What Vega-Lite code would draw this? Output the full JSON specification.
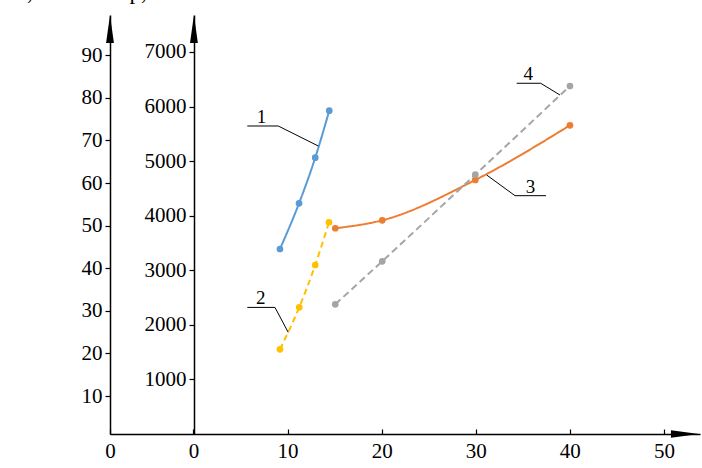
{
  "$schema": "https://vega.github.io/schema/vega-lite/v6.json",
  "width": 590,
  "height": 419,
  "autosize": "none",
  "padding": {"left": 110, "top": 15, "right": 2, "bottom": 34},
  "background": "white",
  "title": {
    "text": "Nт, кВт\u00a0\u00a0\u00a0\u00a0Мкр, Н·м",
    "anchor": "start",
    "frame": "group",
    "baseline": "alphabetic",
    "offset": 4,
    "dx": -108,
    "dy": 11,
    "font": "Liberation Serif",
    "fontSize": 23,
    "fontWeight": "normal",
    "color": "black"
  },
  "config": {
    "view": {"stroke": null},
    "axis": {
      "grid": false,
      "title": null,
      "domainColor": "black",
      "domainWidth": 1.5,
      "tickColor": "black",
      "tickWidth": 1.2,
      "labelColor": "black",
      "labelFont": "Liberation Serif",
      "labelFlush": false,
      "labelOverlap": false
    }
  },
  "datasets": {
    "series": [
      {"s": "1", "x": 9.19, "y": 3390},
      {"s": "1", "x": 11.22, "y": 4228},
      {"s": "1", "x": 12.94, "y": 5063},
      {"s": "1", "x": 14.43, "y": 5924},
      {"s": "2", "x": 9.19, "y": 1552},
      {"s": "2", "x": 11.24, "y": 2322},
      {"s": "2", "x": 12.94, "y": 3097},
      {"s": "2", "x": 14.4, "y": 3880},
      {"s": "3", "x": 15.07, "y": 3770},
      {"s": "3", "x": 20.06, "y": 3916},
      {"s": "3", "x": 29.95, "y": 4655},
      {"s": "3", "x": 40.01, "y": 5657},
      {"s": "4", "x": 15.07, "y": 2377},
      {"s": "4", "x": 20.06, "y": 3165},
      {"s": "4", "x": 29.95, "y": 4752},
      {"s": "4", "x": 40.01, "y": 6377}
    ]
  },
  "encoding": {
    "x": {
      "field": "x",
      "type": "quantitative",
      "scale": {"domain": [-8.87, 53.83], "nice": false, "zero": false},
      "axis": {
        "values": [-8.87, 0, 10, 20, 30, 40, 50],
        "labelExpr": "datum.value < -1 ? '0' : datum.label",
        "tickSize": -5,
        "labelPadding": 11,
        "labelFontSize": 21
      }
    }
  },
  "layer": [
    {
      "data": {"values": [{"x": -8.87, "n": 96.15, "dir": "up"}]},
      "mark": {"type": "point", "filled": true, "opacity": 1, "color": "black", "size": 784},
      "encoding": {
        "y": {
          "field": "n",
          "type": "quantitative",
          "scale": {"domain": [1.08, 99.44], "nice": false, "zero": false},
          "axis": {
            "orient": "left",
            "offset": 0,
            "values": [10, 20, 30, 40, 50, 60, 70, 80, 90],
            "tickSize": 5,
            "labelPadding": 3,
            "labelFontSize": 21
          }
        },
        "shape": {"value": "M0,-1L0.28,1L-0.28,1Z"}
      }
    },
    {
      "encoding": {
        "y": {
          "field": "y",
          "type": "quantitative",
          "scale": {"domain": [0, 7678], "nice": false, "zero": false},
          "axis": {
            "orient": "left",
            "offset": -84,
            "format": "d",
            "values": [1000, 2000, 3000, 4000, 5000, 6000, 7000],
            "tickSize": 5,
            "labelPadding": 3,
            "labelFontSize": 21
          }
        }
      },
      "layer": [
        {
          "data": {"name": "series"},
          "mark": {"type": "line", "interpolate": "monotone", "strokeWidth": 2},
          "encoding": {
            "color": {
              "field": "s",
              "type": "nominal",
              "legend": null,
              "scale": {"domain": ["1", "2", "3", "4"], "range": ["#5B9BD5", "#FFC000", "#ED7D31", "#A5A5A5"]}
            },
            "strokeDash": {
              "field": "s",
              "type": "nominal",
              "legend": null,
              "scale": {"domain": ["1", "2", "3", "4"], "range": [[1, 0], [6, 4], [1, 0], [7, 4]]}
            }
          }
        },
        {
          "data": {"name": "series"},
          "mark": {"type": "point", "filled": true, "opacity": 1, "size": 45},
          "encoding": {
            "color": {"field": "s", "type": "nominal", "legend": null}
          }
        },
        {
          "data": {
            "values": [
              {"lead": "1", "o": 1, "x": 5.72, "y": 5644},
              {"lead": "1", "o": 2, "x": 9.01, "y": 5644},
              {"lead": "1", "o": 3, "x": 13.26, "y": 5278},
              {"lead": "2", "o": 1, "x": 5.72, "y": 2320},
              {"lead": "2", "o": 2, "x": 8.66, "y": 2320},
              {"lead": "2", "o": 3, "x": 10.07, "y": 1862},
              {"lead": "3", "o": 1, "x": 31.16, "y": 4746},
              {"lead": "3", "o": 2, "x": 34.17, "y": 4367},
              {"lead": "3", "o": 3, "x": 37.46, "y": 4367},
              {"lead": "4", "o": 1, "x": 34.35, "y": 6427},
              {"lead": "4", "o": 2, "x": 36.9, "y": 6427},
              {"lead": "4", "o": 3, "x": 38.95, "y": 6212}
            ]
          },
          "mark": {"type": "line", "color": "black", "strokeWidth": 1},
          "encoding": {
            "detail": {"field": "lead", "type": "nominal"},
            "order": {"field": "o", "type": "quantitative"}
          }
        },
        {
          "data": {
            "values": [
              {"t": "1", "x": 7.24, "y": 5644},
              {"t": "2", "x": 7.14, "y": 2320},
              {"t": "3", "x": 35.83, "y": 4367},
              {"t": "4", "x": 35.58, "y": 6427}
            ]
          },
          "mark": {"type": "text", "font": "Liberation Serif", "fontSize": 19, "color": "black", "baseline": "alphabetic", "dy": -3},
          "encoding": {"text": {"field": "t", "type": "nominal"}}
        },
        {
          "data": {
            "values": [
              {"x": 0.05, "y": 7422, "dir": "up"},
              {"x": 52.23, "y": 0, "dir": "right"}
            ]
          },
          "mark": {"type": "point", "filled": true, "opacity": 1, "color": "black", "size": 784},
          "encoding": {
            "shape": {
              "field": "dir",
              "type": "nominal",
              "legend": null,
              "scale": {"domain": ["up", "right"], "range": ["M0,-1L0.28,1L-0.28,1Z", "M1,0L-1,0.26L-1,-0.26Z"]}
            }
          }
        }
      ]
    }
  ],
  "resolve": {"scale": {"y": "independent"}}
}
